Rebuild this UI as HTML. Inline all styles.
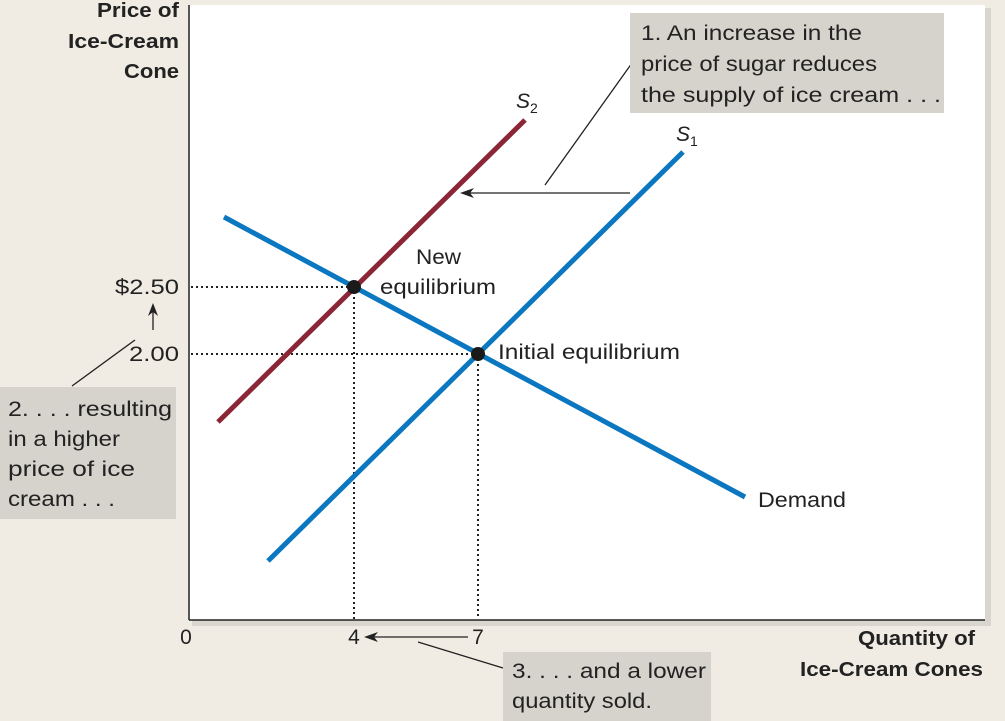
<!DOCTYPE html>
<html><head><meta charset="utf-8"><style>
body{margin:0;background:#f0ece3;}
svg{display:block;font-family:"Liberation Sans",sans-serif;}
</style></head><body>
<svg width="1005" height="721" viewBox="0 0 1005 721">
<rect width="1005" height="721" fill="#f0ece3"/>
<rect x="192" y="8" width="799" height="618" fill="#d9d6d0"/>
<rect x="189" y="5" width="796" height="615" fill="#fff"/>
<line x1="189" y1="5" x2="189" y2="620" stroke="#222" stroke-width="1.5"/>
<line x1="189" y1="620" x2="985" y2="620" stroke="#222" stroke-width="1.5"/>
<g stroke="#222" stroke-width="2" stroke-dasharray="2,3">
<line x1="191" y1="287" x2="354" y2="287"/>
<line x1="191" y1="354" x2="478" y2="354"/>
<line x1="354" y1="287" x2="354" y2="619"/>
<line x1="478" y1="354" x2="478" y2="619"/>
</g>
<line x1="224" y1="217" x2="745" y2="497" stroke="#0a77c0" stroke-width="5"/>
<line x1="268" y1="561" x2="683" y2="152" stroke="#0a77c0" stroke-width="5"/>
<line x1="218" y1="422" x2="525" y2="120" stroke="#8b2637" stroke-width="5"/>
<circle cx="354" cy="287" r="7" fill="#1a1a1a"/>
<circle cx="478" cy="354" r="7" fill="#1a1a1a"/>
<g stroke="#222" stroke-width="1.3" fill="none">
<line x1="630" y1="193" x2="468" y2="193"/>
<line x1="632" y1="63" x2="545" y2="185"/>
<line x1="72" y1="386" x2="135" y2="340"/>
<line x1="153" y1="330" x2="153" y2="310"/>
<line x1="468" y1="637" x2="372" y2="637"/>
<line x1="418" y1="642" x2="503" y2="668"/>
</g>
<polygon points="460,193 474,188 470,193 474,198" fill="#222"/>
<polygon points="153,303 148,316 153,312 158,316" fill="#222"/>
<polygon points="364,637 378,632 374,637 378,642" fill="#222"/>
<rect x="630" y="13" width="314" height="100" fill="#d6d3cc"/>
<rect x="0" y="387" width="176" height="132" fill="#d6d3cc"/>
<rect x="503" y="652" width="208" height="69" fill="#d6d3cc"/>
<g font-size="21" fill="#222">
<text x="641" y="40" textLength="221" lengthAdjust="spacingAndGlyphs">1. An increase in the</text>
<text x="641" y="71" textLength="236" lengthAdjust="spacingAndGlyphs">price of sugar reduces</text>
<text x="641" y="102" textLength="300" lengthAdjust="spacingAndGlyphs">the supply of ice cream . . .</text>
<text x="8" y="416" textLength="164" lengthAdjust="spacingAndGlyphs">2. . . . resulting</text>
<text x="8" y="446" textLength="112" lengthAdjust="spacingAndGlyphs">in a higher</text>
<text x="8" y="476" textLength="127" lengthAdjust="spacingAndGlyphs">price of ice</text>
<text x="8" y="506" textLength="107" lengthAdjust="spacingAndGlyphs">cream . . .</text>
<text x="512" y="678" textLength="194" lengthAdjust="spacingAndGlyphs">3. . . . and a lower</text>
<text x="512" y="708" textLength="140" lengthAdjust="spacingAndGlyphs">quantity sold.</text>
<text x="416" y="264" textLength="45" lengthAdjust="spacingAndGlyphs">New</text>
<text x="380" y="294" textLength="116" lengthAdjust="spacingAndGlyphs">equilibrium</text>
<text x="498" y="359" textLength="182" lengthAdjust="spacingAndGlyphs">Initial equilibrium</text>
<text x="758" y="507" textLength="88" lengthAdjust="spacingAndGlyphs">Demand</text>
<text x="115" y="294" textLength="64" lengthAdjust="spacingAndGlyphs">$2.50</text>
<text x="129" y="361" textLength="50" lengthAdjust="spacingAndGlyphs">2.00</text>
<text x="186" y="644" text-anchor="middle">0</text>
<text x="354" y="644" text-anchor="middle">4</text>
<text x="478" y="644" text-anchor="middle">7</text>
<text x="516" y="108" font-style="italic">S<tspan font-size="14" dy="5" font-style="normal">2</tspan></text>
<text x="676" y="141" font-style="italic">S<tspan font-size="14" dy="5" font-style="normal">1</tspan></text>
</g>
<g font-size="20" font-weight="bold" fill="#222">
<text x="97" y="17" textLength="82" lengthAdjust="spacingAndGlyphs">Price of</text>
<text x="68" y="48" textLength="111" lengthAdjust="spacingAndGlyphs">Ice-Cream</text>
<text x="124" y="78" textLength="55" lengthAdjust="spacingAndGlyphs">Cone</text>
<text x="858" y="645" textLength="117" lengthAdjust="spacingAndGlyphs">Quantity of</text>
<text x="800" y="676" textLength="183" lengthAdjust="spacingAndGlyphs">Ice-Cream Cones</text>
</g>
</svg>
</body></html>
